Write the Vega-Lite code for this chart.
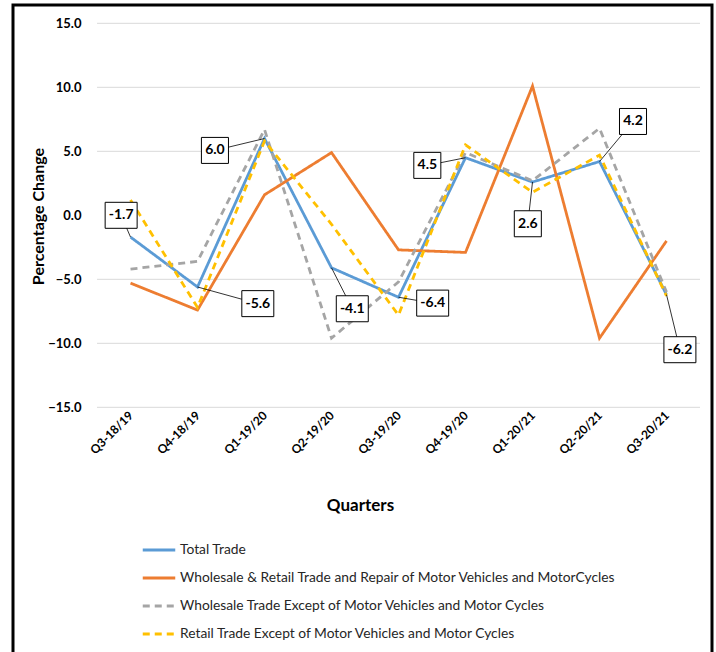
{
  "$schema": "https://vega.github.io/schema/vega-lite/v6.json",
  "autosize": {"type": "none"},
  "padding": {"left": 13, "top": 5, "right": 4, "bottom": 0},
  "width": 699,
  "height": 650,
  "background": "white",
  "config": {
    "font": "Lato",
    "view": {"stroke": "black", "strokeWidth": 3}
  },
  "datasets": {
    "trade": [
      {"Quarter": "Q3-18/19", "QuarterNo": 0, "Series": "Total Trade", "Value": -1.7},
      {"Quarter": "Q4-18/19", "QuarterNo": 1, "Series": "Total Trade", "Value": -5.6},
      {"Quarter": "Q1-19/20", "QuarterNo": 2, "Series": "Total Trade", "Value": 6.0},
      {"Quarter": "Q2-19/20", "QuarterNo": 3, "Series": "Total Trade", "Value": -4.1},
      {"Quarter": "Q3-19/20", "QuarterNo": 4, "Series": "Total Trade", "Value": -6.4},
      {"Quarter": "Q4-19/20", "QuarterNo": 5, "Series": "Total Trade", "Value": 4.5},
      {"Quarter": "Q1-20/21", "QuarterNo": 6, "Series": "Total Trade", "Value": 2.6},
      {"Quarter": "Q2-20/21", "QuarterNo": 7, "Series": "Total Trade", "Value": 4.2},
      {"Quarter": "Q3-20/21", "QuarterNo": 8, "Series": "Total Trade", "Value": -6.2},
      {"Quarter": "Q3-18/19", "QuarterNo": 0, "Series": "Wholesale & Retail Trade and Repair of Motor Vehicles and MotorCycles", "Value": -5.3},
      {"Quarter": "Q4-18/19", "QuarterNo": 1, "Series": "Wholesale & Retail Trade and Repair of Motor Vehicles and MotorCycles", "Value": -7.4},
      {"Quarter": "Q1-19/20", "QuarterNo": 2, "Series": "Wholesale & Retail Trade and Repair of Motor Vehicles and MotorCycles", "Value": 1.6},
      {"Quarter": "Q2-19/20", "QuarterNo": 3, "Series": "Wholesale & Retail Trade and Repair of Motor Vehicles and MotorCycles", "Value": 4.9},
      {"Quarter": "Q3-19/20", "QuarterNo": 4, "Series": "Wholesale & Retail Trade and Repair of Motor Vehicles and MotorCycles", "Value": -2.7},
      {"Quarter": "Q4-19/20", "QuarterNo": 5, "Series": "Wholesale & Retail Trade and Repair of Motor Vehicles and MotorCycles", "Value": -2.9},
      {"Quarter": "Q1-20/21", "QuarterNo": 6, "Series": "Wholesale & Retail Trade and Repair of Motor Vehicles and MotorCycles", "Value": 10.1},
      {"Quarter": "Q2-20/21", "QuarterNo": 7, "Series": "Wholesale & Retail Trade and Repair of Motor Vehicles and MotorCycles", "Value": -9.6},
      {"Quarter": "Q3-20/21", "QuarterNo": 8, "Series": "Wholesale & Retail Trade and Repair of Motor Vehicles and MotorCycles", "Value": -2.0},
      {"Quarter": "Q3-18/19", "QuarterNo": 0, "Series": "Wholesale Trade Except of Motor Vehicles and Motor Cycles", "Value": -4.2},
      {"Quarter": "Q4-18/19", "QuarterNo": 1, "Series": "Wholesale Trade Except of Motor Vehicles and Motor Cycles", "Value": -3.6},
      {"Quarter": "Q1-19/20", "QuarterNo": 2, "Series": "Wholesale Trade Except of Motor Vehicles and Motor Cycles", "Value": 6.7},
      {"Quarter": "Q2-19/20", "QuarterNo": 3, "Series": "Wholesale Trade Except of Motor Vehicles and Motor Cycles", "Value": -9.6},
      {"Quarter": "Q3-19/20", "QuarterNo": 4, "Series": "Wholesale Trade Except of Motor Vehicles and Motor Cycles", "Value": -5.2},
      {"Quarter": "Q4-19/20", "QuarterNo": 5, "Series": "Wholesale Trade Except of Motor Vehicles and Motor Cycles", "Value": 4.9},
      {"Quarter": "Q1-20/21", "QuarterNo": 6, "Series": "Wholesale Trade Except of Motor Vehicles and Motor Cycles", "Value": 2.7},
      {"Quarter": "Q2-20/21", "QuarterNo": 7, "Series": "Wholesale Trade Except of Motor Vehicles and Motor Cycles", "Value": 6.8},
      {"Quarter": "Q3-20/21", "QuarterNo": 8, "Series": "Wholesale Trade Except of Motor Vehicles and Motor Cycles", "Value": -6.0},
      {"Quarter": "Q3-18/19", "QuarterNo": 0, "Series": "Retail Trade Except of Motor Vehicles and Motor Cycles", "Value": 1.2},
      {"Quarter": "Q4-18/19", "QuarterNo": 1, "Series": "Retail Trade Except of Motor Vehicles and Motor Cycles", "Value": -7.2},
      {"Quarter": "Q1-19/20", "QuarterNo": 2, "Series": "Retail Trade Except of Motor Vehicles and Motor Cycles", "Value": 5.8},
      {"Quarter": "Q2-19/20", "QuarterNo": 3, "Series": "Retail Trade Except of Motor Vehicles and Motor Cycles", "Value": -0.7},
      {"Quarter": "Q3-19/20", "QuarterNo": 4, "Series": "Retail Trade Except of Motor Vehicles and Motor Cycles", "Value": -7.8},
      {"Quarter": "Q4-19/20", "QuarterNo": 5, "Series": "Retail Trade Except of Motor Vehicles and Motor Cycles", "Value": 5.5},
      {"Quarter": "Q1-20/21", "QuarterNo": 6, "Series": "Retail Trade Except of Motor Vehicles and Motor Cycles", "Value": 1.8},
      {"Quarter": "Q2-20/21", "QuarterNo": 7, "Series": "Retail Trade Except of Motor Vehicles and Motor Cycles", "Value": 4.7},
      {"Quarter": "Q3-20/21", "QuarterNo": 8, "Series": "Retail Trade Except of Motor Vehicles and Motor Cycles", "Value": -6.3}
    ],
    "labels": [
      {"QuarterNo": 0, "Value": -1.7, "Label": "-1.7", "LabelX": -0.14, "LabelY": 0.0},
      {"QuarterNo": 1, "Value": -5.6, "Label": "-5.6", "LabelX": 1.9, "LabelY": -6.9},
      {"QuarterNo": 2, "Value": 6.0, "Label": "6.0", "LabelX": 1.26, "LabelY": 5.07},
      {"QuarterNo": 3, "Value": -4.1, "Label": "-4.1", "LabelX": 3.31, "LabelY": -7.3},
      {"QuarterNo": 4, "Value": -6.4, "Label": "-6.4", "LabelX": 4.51, "LabelY": -6.86},
      {"QuarterNo": 5, "Value": 4.5, "Label": "4.5", "LabelX": 4.43, "LabelY": 3.9},
      {"QuarterNo": 6, "Value": 2.6, "Label": "2.6", "LabelX": 5.93, "LabelY": -0.66},
      {"QuarterNo": 7, "Value": 4.2, "Label": "4.2", "LabelX": 7.5, "LabelY": 7.33},
      {"QuarterNo": 8, "Value": -6.2, "Label": "-6.2", "LabelX": 8.2, "LabelY": -10.5}
    ]
  },
  "layer": [
    {
      "data": {"values": [{"Tick": -15}, {"Tick": -10}, {"Tick": -5}, {"Tick": 5}, {"Tick": 10}, {"Tick": 15}]},
      "mark": {"type": "rule", "color": "#d9d9d9", "strokeWidth": 1},
      "encoding": {
        "y": {
          "field": "Tick", "type": "quantitative",
          "scale": {"domain": [-34.35, 16.43], "nice": false, "zero": false},
          "axis": {
            "orient": "left", "offset": -84, "values": [-15, -10, -5, 0, 5, 10, 15], "format": ".1f",
            "grid": false, "domain": false, "ticks": false, "tickSize": 0, "labelPadding": 16,
            "labelFontSize": 13, "labelFontWeight": "bold", "labelColor": "black",
            "title": "Percentage Change", "titleFontSize": 16, "titleFontWeight": "bold", "titleColor": "black",
            "titleX": -59, "titleY": 211, "titleAngle": -90, "titleAlign": "center", "titleBaseline": "middle"
          }
        },
        "x": {
          "datum": -0.5, "type": "quantitative",
          "scale": {"domain": [-1.754, 8.679], "nice": false, "zero": false},
          "axis": {
            "orient": "bottom", "offset": -248, "values": [0, 1, 2, 3, 4, 5, 6, 7, 8],
            "labelExpr": "['Q3-18/19','Q4-18/19','Q1-19/20','Q2-19/20','Q3-19/20','Q4-19/20','Q1-20/21','Q2-20/21','Q3-20/21'][datum.value]",
            "grid": false, "domain": false, "ticks": false, "tickSize": 0, "labelPadding": 6,
            "labelAngle": -45, "labelAlign": "right", "labelBaseline": "middle",
            "labelFontSize": 12, "labelFontWeight": "bold", "labelColor": "black",
            "title": "Quarters", "titleFontSize": 17, "titleFontWeight": "bold", "titleColor": "black",
            "titleX": 347, "titleY": 98, "titleAlign": "center", "titleBaseline": "middle"
          }
        },
        "x2": {"datum": 8.5}
      }
    },
    {
      "mark": {"type": "rule", "color": "#7f7f7f", "strokeWidth": 1.5},
      "encoding": {
        "y": {"datum": 0, "type": "quantitative"},
        "x": {"datum": -0.5, "type": "quantitative"},
        "x2": {"datum": 8.5}
      }
    },
    {
      "mark": {"type": "rule", "color": "#404040", "strokeWidth": 1},
      "encoding": {
        "x": {"datum": -0.5, "type": "quantitative"},
        "y": {"datum": -15, "type": "quantitative"},
        "y2": {"datum": 15}
      }
    },
    {
      "data": {"name": "trade"},
      "mark": {"type": "line", "strokeWidth": 2.8},
      "encoding": {
        "x": {"field": "QuarterNo", "type": "quantitative"},
        "y": {"field": "Value", "type": "quantitative"},
        "color": {
          "field": "Series", "type": "nominal",
          "scale": {
            "domain": ["Total Trade", "Wholesale & Retail Trade and Repair of Motor Vehicles and MotorCycles", "Wholesale Trade Except of Motor Vehicles and Motor Cycles", "Retail Trade Except of Motor Vehicles and Motor Cycles"],
            "range": ["#5b9bd5", "#ed7d31", "#a5a5a5", "#ffc000"]
          },
          "legend": {
            "title": null, "orient": "none", "legendX": 132, "legendY": 531, "padding": 0,
            "symbolType": "M-1.3,0H1.3", "symbolSize": 625, "symbolStrokeWidth": 2.8,
            "labelFontSize": 13.8, "labelColor": "#262626", "labelOffset": 7, "rowPadding": 7, "labelLimit": 600
          }
        },
        "strokeDash": {
          "field": "Series", "type": "nominal",
          "scale": {
            "domain": ["Total Trade", "Wholesale & Retail Trade and Repair of Motor Vehicles and MotorCycles", "Wholesale Trade Except of Motor Vehicles and Motor Cycles", "Retail Trade Except of Motor Vehicles and Motor Cycles"],
            "range": [[1, 0], [1, 0], [7, 5], [7, 5]]
          },
          "legend": null
        }
      }
    },
    {
      "data": {"name": "labels"},
      "mark": {"type": "rule", "color": "black", "strokeWidth": 0.8},
      "encoding": {
        "x": {"field": "QuarterNo", "type": "quantitative"},
        "y": {"field": "Value", "type": "quantitative"},
        "x2": {"field": "LabelX"},
        "y2": {"field": "LabelY"}
      }
    },
    {
      "data": {"name": "labels"},
      "mark": {"type": "point", "filled": true, "fill": "white", "stroke": "black", "strokeWidth": 1, "opacity": 1, "size": 676},
      "encoding": {
        "x": {"field": "LabelX", "type": "quantitative"},
        "y": {"field": "LabelY", "type": "quantitative"},
        "shape": {
          "condition": {"test": "datum.Value < 0", "value": "M-1.23,-1L1.23,-1L1.23,1L-1.23,1Z"},
          "value": "M-1.04,-1L1.04,-1L1.04,1L-1.04,1Z"
        }
      }
    },
    {
      "data": {"name": "labels"},
      "mark": {"type": "text", "fontSize": 14, "fontWeight": "bold", "color": "black", "align": "center", "baseline": "middle"},
      "encoding": {
        "x": {"field": "LabelX", "type": "quantitative"},
        "y": {"field": "LabelY", "type": "quantitative"},
        "text": {"field": "Label"}
      }
    }
  ]
}
